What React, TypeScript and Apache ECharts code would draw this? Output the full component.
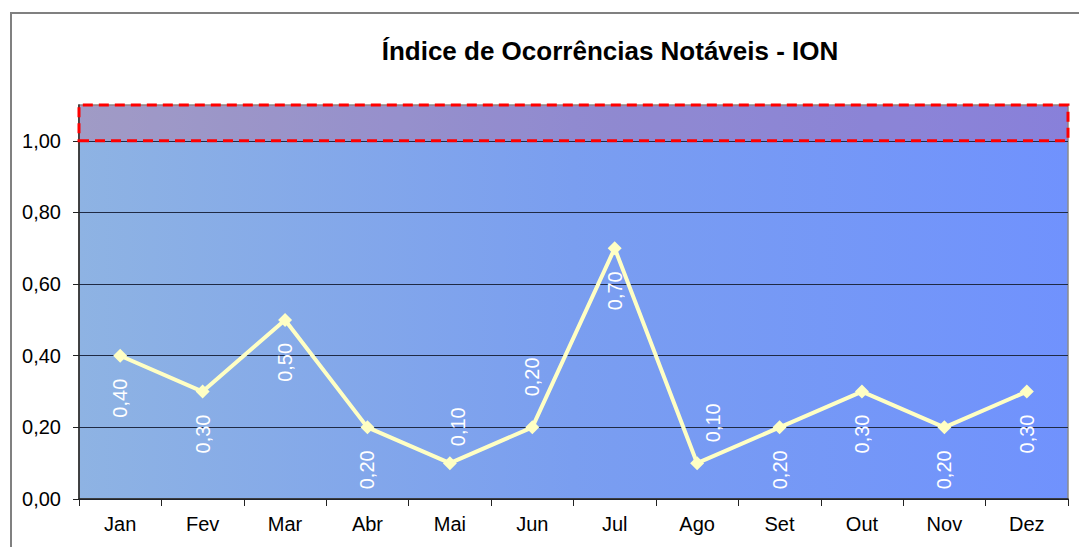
import React, { useEffect, useRef } from "react";
import * as echarts from "echarts";

const categories = ["Jan", "Fev", "Mar", "Abr", "Mai", "Jun", "Jul", "Ago", "Set", "Out", "Nov", "Dez"];
const values = [0.4, 0.3, 0.5, 0.2, 0.1, 0.2, 0.7, 0.1, 0.2, 0.3, 0.2, 0.3];
const labelSide = ["below", "below", "below", "below", "above", "above", "below", "above", "below", "below", "below", "below"];
const yTicks = [0, 0.2, 0.4, 0.6, 0.8, 1.0];
const bandRange = [1.0, 1.1];
const titleText = "Índice de Ocorrências Notáveis - ION";

const FONT = "'Liberation Sans', Arial, sans-serif";
const fmt = (v: number) => v.toFixed(2).replace(".", ",");

export default function App() {
  const ref = useRef<HTMLDivElement>(null);
  useEffect(() => {
    document.body.style.margin = "0";
    const chart = echarts.init(ref.current!, null, { renderer: "svg" });
    const aboveDist: Record<number, number> = { 4: 10, 5: 24, 7: 14 };
    const aboveOff: Record<number, number[]> = { 4: [0, 8], 5: [0, 0], 7: [0, 16] };
    const data = values.map((v, i) => {
      const above = labelSide[i] === "above";
      return {
        value: v,
        label: above
          ? { position: "top", align: "left", verticalAlign: "middle", distance: aboveDist[i] ?? 12, offset: aboveOff[i] ?? [0, 0] }
          : { position: "bottom", align: "right", verticalAlign: "middle", distance: 16 },
      };
    });
    chart.setOption({
      animation: false,
      backgroundColor: "#ffffff",
      title: {
        text: titleText,
        left: 605,
        top: 33,
        textAlign: "center",
        textStyle: { fontFamily: FONT, fontWeight: "bold", fontSize: 26, color: "#000" },
      },
      graphic: [
        {
          type: "rect",
          shape: { x: 11, y: 13, width: 1200, height: 700 },
          style: { fill: "none", stroke: "#808080", lineWidth: 2 },
          silent: true,
          z: -10,
        },
      ],
      grid: {
        left: 79,
        right: 11,
        top: 105,
        bottom: 48,
        show: true,
        borderColor: "#8a8a8a",
        borderWidth: 1.5,
        backgroundColor: new echarts.graphic.LinearGradient(0, 0, 1, 0, [
          { offset: 0, color: "#8EB3E3" },
          { offset: 0.5, color: "#7A9EF0" },
          { offset: 1, color: "#7092FD" },
        ]),
      },
      xAxis: {
        type: "category",
        data: categories,
        boundaryGap: true,
        axisLine: { lineStyle: { color: "#222", width: 1.5 } },
        axisTick: { show: true, alignWithLabel: false, length: 7, lineStyle: { color: "#222" } },
        axisLabel: { color: "#000", fontFamily: FONT, fontSize: 20, margin: 15 },
      },
      yAxis: {
        type: "value",
        min: 0,
        max: 1.1,
        interval: 0.2,
        axisLine: { show: true, lineStyle: { color: "#222", width: 1.5 } },
        axisTick: { show: true, length: 6, lineStyle: { color: "#222" }, customValues: yTicks },
        axisLabel: {
          color: "#000",
          fontFamily: FONT,
          fontSize: 20,
          margin: 18,
          customValues: yTicks,
          formatter: (v: number) => (v > 1.0001 ? "" : fmt(v)),
        },
        splitLine: { show: true, lineStyle: { color: "#1f2a44", width: 1 } },
      },
      series: [
        {
          type: "line",
          data,
          symbol: "diamond",
          symbolSize: 14,
          lineStyle: { color: "#FFFFC4", width: 4 },
          itemStyle: { color: "#FFFFC4" },
          z: 5,
          label: {
            show: true,
            rotate: 90,
            color: "#fff",
            fontFamily: FONT,
            fontSize: 20,
            formatter: (p: any) => fmt(p.value),
          },
          markArea: {
            silent: true,
            itemStyle: {
              color: "rgba(235,60,80,0.2)",
              borderColor: "#ff0000",
              borderWidth: 3,
              borderType: [10, 6],
            },
            data: [[{ yAxis: bandRange[0] }, { yAxis: bandRange[1] }]],
          },
        },
      ],
    });
    return () => chart.dispose();
  }, []);
  return <div ref={ref} style={{ width: 1079, height: 547 }} />;
}
